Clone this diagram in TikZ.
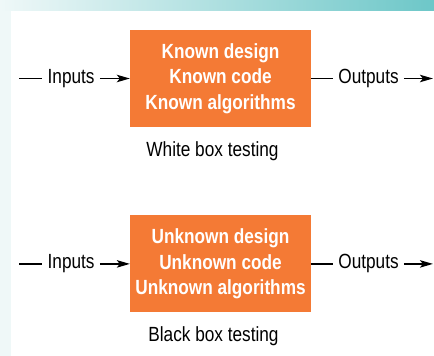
\documentclass[tikz,border=0pt]{standalone}
\usepackage{fontspec}
\setmainfont[FakeStretch=0.84]{Liberation Sans}
\usepackage{xcolor}
\usetikzlibrary{positioning, arrows.meta}
\definecolor{boxorange}{HTML}{F47A35}
\definecolor{bandteal}{HTML}{6DC7C8}
\definecolor{bandlight}{HTML}{EFF8F8}

\begin{document}
\begin{tikzpicture}[x=1pt, y=1pt,
    kasten/.style={rectangle, fill=boxorange, text=white, font=\bfseries\fontsize{20.5}{25.3}\selectfont, align=center, minimum width=181pt, minimum height=97pt, inner sep=0pt},
    schrift/.style={font=\fontsize{20.5}{24}\selectfont, inner xsep=5pt, inner ysep=0pt},
    pfeil/.style={-{Stealth[length=13pt, width=7.5pt, inset=3pt]}, line width=1.2pt},
    strich/.style={line width=1.2pt},
    node distance=0pt]

      \useasboundingbox (0,0) rectangle (434,-356);

      % Hintergrund
      \fill[bandlight] (0,0) rectangle (11,-356);
      \shade[left color=bandlight, right color=bandteal] (0,0) rectangle (434,-10);

      % Erster Kasten
      \node[kasten] (box1) at (220.5,-78.5) {Known design\\Known code\\Known algorithms};
      \node[schrift, inner xsep=0pt, below=14pt of box1, xshift=-8pt] (cap1) {White box testing};
      \node[schrift, left=30pt of box1] (in1) {Inputs};
      \node[schrift, right=22pt of box1] (out1) {Outputs};
      \coordinate[left=23pt of in1] (in1anf);
      \coordinate[right=29pt of out1] (out1end);

      % Zweiter Kasten
      \node[kasten, below=88pt of box1] (box2) {Unknown design\\Unknown code\\Unknown algorithms};
      \node[schrift, inner xsep=0pt, below=14pt of box2, xshift=-7pt] (cap2) {Black box testing};
      \node[schrift, left=30pt of box2] (in2) {Inputs};
      \node[schrift, right=22pt of box2] (out2) {Outputs};
      \coordinate[left=23pt of in2] (in2anf);
      \coordinate[right=29pt of out2] (out2end);

      % Pfeile
      \draw[strich] (in1anf) -- (in1.west);
      \draw[pfeil] (in1) -- (box1);
      \draw[strich] (box1) -- (out1);
      \draw[pfeil] (out1) -- (out1end);

      \draw[strich] (in2anf) -- (in2.west);
      \draw[pfeil] (in2) -- (box2);
      \draw[strich] (box2) -- (out2);
      \draw[pfeil] (out2) -- (out2end);

\end{tikzpicture}
\end{document}
